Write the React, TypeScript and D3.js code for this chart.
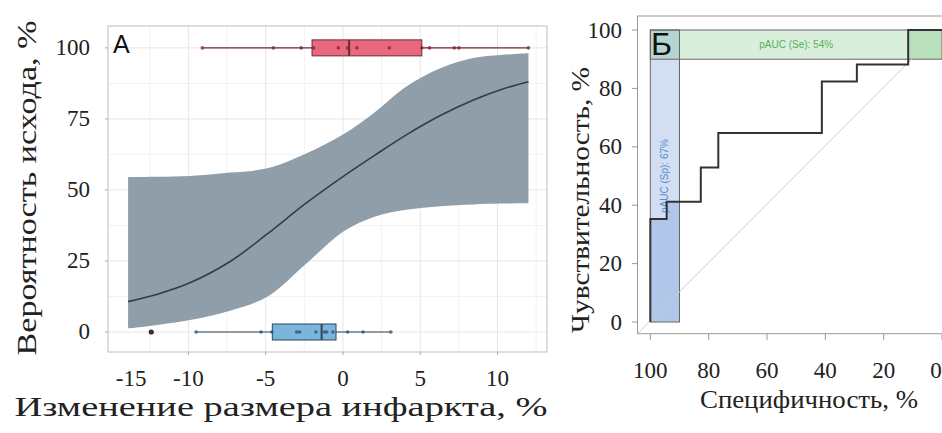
import React from "react";
import * as d3 from "d3";

// ---- panel A: logistic fit with confidence band ----
const fitX = [-13.9, -12, -9.9, -7.3, -4.9, -2.35, 0, 2, 4.1, 6.3, 8.4, 10.2, 12];
const fitY = [10.7, 13.3, 17.3, 24.8, 34.5, 45.5, 54.7, 62, 69.4, 76.2, 81.6, 85.3, 88.1];
const fitLo = [1.3, 2.5, 4.2, 7.5, 12.4, 24.2, 35.3, 40.5, 43, 44.3, 44.9, 45.2, 45.3];
const fitHi = [54.5, 54.6, 54.9, 56.1, 57.6, 62.9, 69.5, 77.1, 86.4, 92.8, 96.4, 97.5, 98.1];

// boxplots: [whiskerLo, q1, median, q3, whiskerHi]
const boxTopStats = [-9.06, -2.0, 0.4, 5.1, 12.0];
const boxTopPoints = [-9.1, -4.5, -2.7, -1.9, -0.3, 0.3, 0.9, 3.0, 5.1, 5.6, 7.2, 7.5, 12.0];
const boxBotStats = [-9.46, -4.57, -1.38, -0.45, 3.08];
const boxBotPoints = [-9.5, -5.3, -4.6, -3.0, -2.8, -1.75, -1.2, -1.05, -0.65, 0.3, 1.3, 3.1];
const boxBotOutliers = [-12.4];

const xTicksA = [-10, -5, 0, 5, 10];
const xMinorA = [-12.5, -7.5, -2.5, 2.5, 7.5, 12.5];
const xLabelsA = [-15, -10, -5, 0, 5, 10];
const yTicksA = [0, 25, 50, 75, 100];
const yMinorA = [12.5, 37.5, 62.5, 87.5];

// ---- panel B: ROC curve ----
const rocSp = [100, 100, 94.4, 94.4, 82.7, 82.7, 76.7, 76.7, 41.2, 41.2, 29.2, 29.2, 11.6, 11.6, 0];
const rocSe = [0, 35.3, 35.3, 41.2, 41.2, 52.9, 52.9, 64.7, 64.7, 82.4, 82.4, 88.2, 88.2, 100, 100];
const spFocus = [100, 90];
const seFocus = [90, 100];
const ticksB = [100, 80, 60, 40, 20, 0];
const yTicksB = [0, 20, 40, 60, 80, 100];

const serif = "'Liberation Serif', 'Times New Roman', serif";
const sans = "'Liberation Sans', Arial, sans-serif";

const xA = d3.scaleLinear().domain([-15.2, 13.2]).range([108, 547]);
const yA = d3.scaleLinear().domain([-7.04, 107.7]).range([352, 26]);
const xB = d3.scaleLinear().domain([104.4, -4]).range([637.5, 953.7]);
const yB = d3.scaleLinear().domain([-4, 104.8]).range([333.7, 16]);

function Box({ stats, points, outliers, yv, fill, stroke, dot }: any) {
  const cy = yA(yv);
  const h = 8;
  return (
    <g>
      <line x1={xA(stats[0])} x2={xA(stats[4])} y1={cy} y2={cy} stroke={stroke} strokeWidth={1.2} />
      <rect x={xA(stats[1])} y={cy - h} width={xA(stats[3]) - xA(stats[1])} height={2 * h}
        fill={fill} stroke={stroke} strokeWidth={1} />
      <line x1={xA(stats[2])} x2={xA(stats[2])} y1={cy - h} y2={cy + h} stroke={stroke} strokeWidth={2} />
      {points.map((p: number, i: number) => (
        <circle key={i} cx={xA(p)} cy={cy} r={1.8} fill={dot} opacity={0.8} />
      ))}
      {(outliers || []).map((p: number, i: number) => (
        <circle key={"o" + i} cx={xA(p)} cy={cy} r={2.6} fill="#333" />
      ))}
    </g>
  );
}

export default function App() {
  const smooth = d3.curveCatmullRom.alpha(0.5);
  const band = d3.area<number>()
    .x((d, i) => xA(fitX[i]))
    .y0((d, i) => yA(fitLo[i]))
    .y1((d, i) => yA(fitHi[i]))
    .curve(smooth)(fitX);
  const fitLine = d3.line<number>()
    .x((d, i) => xA(fitX[i]))
    .y((d, i) => yA(fitY[i]))
    .curve(smooth)(fitX);

  const rocLine = d3.line<number>().x((d, i) => xB(rocSp[i])).y((d, i) => yB(rocSe[i]))(rocSp);
  const rocArea = d3.area<number>().x((d, i) => xB(rocSp[i])).y0(yB(0)).y1((d, i) => yB(rocSe[i]))(rocSp);

  const spRect = { x: xB(spFocus[0]), y: yB(100), w: xB(spFocus[1]) - xB(spFocus[0]), h: yB(0) - yB(100) };
  const seRect = { x: xB(100), y: yB(seFocus[1]), w: xB(0) - xB(100), h: yB(seFocus[0]) - yB(seFocus[1]) };

  return (
    <svg width={942} height={433} style={{ position: "absolute", left: 0, top: 0, background: "#fff" }}>
      <defs>
        <clipPath id="clipSp"><rect x={spRect.x} y={spRect.y} width={spRect.w} height={spRect.h} /></clipPath>
        <clipPath id="clipSe"><rect x={seRect.x} y={seRect.y} width={seRect.w} height={seRect.h} /></clipPath>
      </defs>

      {/* ===== panel A ===== */}
      <g>
        {xMinorA.map((v) => (
          <line key={"xm" + v} x1={xA(v)} x2={xA(v)} y1={26} y2={352} stroke="#f2f2f2" />
        ))}
        {yMinorA.map((v) => (
          <line key={"ym" + v} x1={108} x2={547} y1={yA(v)} y2={yA(v)} stroke="#f2f2f2" />
        ))}
        {xTicksA.map((v) => (
          <line key={"xg" + v} x1={xA(v)} x2={xA(v)} y1={26} y2={352} stroke="#e6e6e6" />
        ))}
        {yTicksA.map((v) => (
          <line key={"yg" + v} x1={108} x2={547} y1={yA(v)} y2={yA(v)} stroke="#e6e6e6" />
        ))}
        <path d={band || ""} fill="#8f9ea8" />
        <path d={fitLine || ""} fill="none" stroke="#2e3f4a" strokeWidth={1.6} />
        <Box stats={boxTopStats} points={boxTopPoints} yv={100} fill="#e8697e" stroke="#6e2b35" dot="#8a2536" />
        <Box stats={boxBotStats} points={boxBotPoints} outliers={boxBotOutliers} yv={0}
          fill="#7cb5dc" stroke="#2e4658" dot="#2f5570" />
        <rect x={108} y={26} width={439} height={326} fill="none" stroke="#bdbdbd" />
        {xTicksA.map((v) => (
          <line key={"xt" + v} x1={xA(v)} x2={xA(v)} y1={352} y2={355} stroke="#aaa" />
        ))}
        {yTicksA.map((v) => (
          <line key={"yt" + v} x1={105} x2={108} y1={yA(v)} y2={yA(v)} stroke="#aaa" />
        ))}
        {yTicksA.map((v) => (
          <text key={"yl" + v} x={90} y={yA(v)} textAnchor="end" dominantBaseline="central"
            fontFamily={serif} fontSize={23} fill="#222">{v}</text>
        ))}
        {xLabelsA.map((v) => (
          <text key={"xl" + v} x={xA(Math.max(v, fitX[0] + 0.2))} y={378} textAnchor="middle"
            dominantBaseline="central" fontFamily={serif} fontSize={23} fill="#222">{v}</text>
        ))}
        <text x={113} y={53} fontFamily={sans} fontSize={25} fill="#111">A</text>
        <text transform="translate(26,188) rotate(-90)" textAnchor="middle" dominantBaseline="central"
          fontFamily={serif} fontSize={28} fill="#222" textLength={335} lengthAdjust="spacingAndGlyphs">
          Вероятность исхода, %
        </text>
        <text x={281} y={416} textAnchor="middle" fontFamily={serif} fontSize={28} fill="#222"
          textLength={533} lengthAdjust="spacingAndGlyphs">
          Изменение размера инфаркта, %
        </text>
      </g>

      {/* ===== panel B ===== */}
      <g>
        <rect x={spRect.x} y={spRect.y} width={spRect.w} height={spRect.h} fill="#4a7fd0" fillOpacity={0.25} />
        <rect x={seRect.x} y={seRect.y} width={seRect.w} height={seRect.h} fill="#3fae49" fillOpacity={0.2} />
        <path d={rocArea || ""} fill="#4a7fd0" fillOpacity={0.25} clipPath="url(#clipSp)" />
        <path d={rocArea || ""} fill="#3fae49" fillOpacity={0.22} clipPath="url(#clipSe)" />
        <rect x={spRect.x} y={spRect.y} width={spRect.w} height={spRect.h} fill="none" stroke="#666" strokeWidth={1} />
        <rect x={seRect.x} y={seRect.y} width={seRect.w} height={seRect.h} fill="none" stroke="#666" strokeWidth={1} />
        <line x1={xB(104.4)} y1={yB(-4)} x2={xB(-4)} y2={yB(104.4)} stroke="#cfcfcf" strokeWidth={1} />
        <text x={seRect.x + seRect.w / 2} y={seRect.y + seRect.h / 2} textAnchor="middle" dominantBaseline="central"
          fontFamily={sans} fontSize={10} fill="#55b05a">pAUC (Se): 54%</text>
        <text transform={`translate(${spRect.x + spRect.w / 2},${spRect.y + spRect.h / 2}) rotate(-90)`}
          textAnchor="middle" dominantBaseline="central" fontFamily={sans} fontSize={10} fill="#5a8ad2">
          pAUC (Sp): 67%
        </text>
        <path d={rocLine || ""} fill="none" stroke="#333" strokeWidth={2} />
        <rect x={637.5} y={16} width={316} height={317.7} fill="none" stroke="#999" />
        {ticksB.map((v) => (
          <line key={"bxt" + v} x1={xB(v)} x2={xB(v)} y1={333.7} y2={340} stroke="#999" />
        ))}
        {yTicksB.map((v) => (
          <line key={"byt" + v} x1={632} x2={637.5} y1={yB(v)} y2={yB(v)} stroke="#999" />
        ))}
        {yTicksB.map((v) => (
          <text key={"byl" + v} x={622} y={yB(v)} textAnchor="end" dominantBaseline="central"
            fontFamily={serif} fontSize={23} fill="#222">{v}</text>
        ))}
        {ticksB.map((v) => (
          <text key={"bxl" + v} x={Math.min(xB(v), 936)} y={370} textAnchor="middle" dominantBaseline="central"
            fontFamily={serif} fontSize={23} fill="#222">{v}</text>
        ))}
        <text x={651} y={55} fontFamily={sans} fontSize={32} fill="#111">Б</text>
        <text transform="translate(580,200) rotate(-90)" textAnchor="middle" dominantBaseline="central"
          fontFamily={serif} fontSize={25} fill="#222" textLength={266} lengthAdjust="spacingAndGlyphs">
          Чувствительность, %
        </text>
        <text x={809} y={408} textAnchor="middle" fontFamily={serif} fontSize={25} fill="#222"
          textLength={218} lengthAdjust="spacingAndGlyphs">
          Специфичность, %
        </text>
      </g>
    </svg>
  );
}
